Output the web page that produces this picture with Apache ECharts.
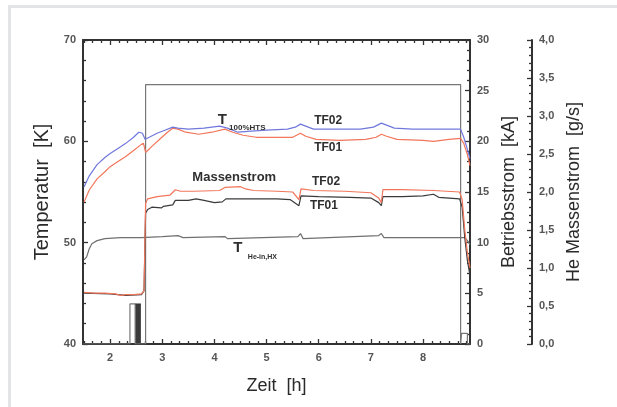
<!DOCTYPE html>
<html>
<head>
<meta charset="utf-8">
<script src="https://cdn.jsdelivr.net/npm/echarts@6/dist/echarts.min.js"></script>
<style>
html,body{margin:0;padding:0;background:#fff;}
#chart{width:617px;height:407px;}
</style>
</head>
<body>
<div id="chart"></div>
<script>
// ---- Data (time in h) ----
var xTickLabels = [2, 3, 4, 5, 6, 7, 8];
var leftTicks = [40, 50, 60, 70];          // Temperatur [K]
var currentTicks = [0, 5, 10, 15, 20, 25, 30]; // Betriebsstrom [kA]
var flowTicks = [0, 0.5, 1, 1.5, 2, 2.5, 3, 3.5, 4]; // He Massenstrom [g/s]

// Temperature TF02 (blue) [K]
var tempTF02 = [[1.50,55.5],[1.6,56.6],[1.75,57.7],[1.9,58.4],[2.0,58.8],[2.15,59.3],[2.3,59.8],[2.45,60.4],[2.55,60.9],[2.62,60.8],[2.67,60.2],[2.75,60.4],[2.9,60.8],[3.05,61.1],[3.2,61.4],[3.3,61.3],[3.5,61.2],[3.8,61.3],[4.1,61.5],[4.25,61.3],[4.45,60.9],[4.7,61.0],[5.0,61.1],[5.4,61.2],[5.55,61.4],[5.65,61.7],[5.75,61.5],[5.9,61.2],[6.3,61.2],[6.8,61.2],[7.05,61.4],[7.2,61.8],[7.3,61.6],[7.45,61.3],[7.8,61.2],[8.3,61.2],[8.72,61.2],[8.78,60.4],[8.85,59.2],[8.9,58.3]];
// Temperature TF01 (red) [K]
var tempTF01 = [[1.50,54.0],[1.6,55.2],[1.75,56.3],[1.9,57.0],[2.0,57.5],[2.15,58.0],[2.3,58.5],[2.45,59.1],[2.6,59.7],[2.64,59.8],[2.68,58.9],[2.8,59.5],[2.95,60.2],[3.1,60.9],[3.2,61.3],[3.3,61.2],[3.45,60.9],[3.7,60.7],[3.95,60.9],[4.2,61.2],[4.35,60.9],[4.55,60.6],[4.8,60.4],[5.2,60.4],[5.5,60.4],[5.65,60.8],[5.75,60.5],[5.95,60.2],[6.4,60.1],[6.9,60.2],[7.1,60.4],[7.2,60.7],[7.3,60.5],[7.5,60.2],[8.0,60.1],[8.2,60.0],[8.5,60.2],[8.72,60.3],[8.78,59.8],[8.85,58.7],[8.9,57.6]];
// He mass flow TF02 (red) [g/s]
var flowTF02 = [[1.50,0.68],[1.7,0.67],[1.9,0.67],[2.1,0.66],[2.2,0.64],[2.3,0.65],[2.45,0.65],[2.6,0.66],[2.65,0.70],[2.68,1.85],[2.72,1.91],[2.9,1.94],[3.15,1.96],[3.25,2.03],[3.35,2.01],[3.6,2.01],[4.1,2.02],[4.2,2.06],[4.5,2.07],[4.6,2.04],[4.75,2.02],[5.2,2.01],[5.5,2.00],[5.62,1.90],[5.66,2.04],[5.9,2.02],[6.5,2.01],[7.0,1.99],[7.15,1.92],[7.2,1.86],[7.23,2.03],[7.6,2.03],[8.2,2.02],[8.7,2.0],[8.75,1.9],[8.8,1.5],[8.85,1.2],[8.9,1.0]];
// He mass flow TF01 (black) [g/s]
var flowTF01 = [[1.50,0.67],[2.0,0.66],[2.3,0.64],[2.6,0.65],[2.65,0.7],[2.68,1.72],[2.72,1.77],[2.8,1.80],[2.98,1.79],[3.02,1.81],[3.2,1.83],[3.25,1.89],[3.5,1.89],[3.65,1.91],[3.8,1.89],[4.0,1.86],[4.15,1.87],[4.22,1.91],[4.6,1.91],[5.2,1.91],[5.45,1.90],[5.62,1.82],[5.66,1.95],[6.0,1.94],[6.6,1.93],[7.0,1.92],[7.15,1.86],[7.2,1.82],[7.23,1.94],[7.6,1.94],[8.0,1.95],[8.2,1.97],[8.3,1.93],[8.7,1.91],[8.75,1.8],[8.8,1.4],[8.85,1.1],[8.9,0.9]];
// T He-in,HX (gray) [K]
var tempHeIn = [[1.50,48.3],[1.55,48.6],[1.6,49.4],[1.65,49.9],[1.75,50.2],[1.9,50.4],[2.2,50.5],[2.6,50.5],[3.0,50.6],[3.3,50.7],[3.4,50.5],[4.2,50.6],[4.25,50.4],[5.6,50.6],[5.65,50.9],[5.7,50.4],[7.15,50.7],[7.2,50.9],[7.25,50.5],[8.7,50.5],[8.8,50.5],[8.85,50.2],[8.9,49.8]];
// Betriebsstrom [kA]
var current = [[1.48,0],[2.38,0],[2.38,3.95],[2.48,3.95],[2.48,0],[2.68,0],[2.68,25.6],[8.72,25.6],[8.72,0],[8.74,0],[8.74,1.05],[8.85,1.05],[8.85,0],[8.9,0]];
var currentPulse = [[2.48,3.95],[2.59,3.95]];

// annotations [x, T]
var annotations = [
  {text:'T', at:[4.15,62.1], size:15},
  {text:'100%HTS', at:[4.63,61.35], size:8},
  {text:'TF02', at:[6.18,62.0], size:12},
  {text:'TF01', at:[6.18,59.35], size:12},
  {text:'Massenstrom', at:[4.38,56.4], size:13},
  {text:'TF02', at:[6.14,56.0], size:12},
  {text:'TF01', at:[6.10,53.6], size:12},
  {text:'T', at:[4.45,49.5], size:15},
  {text:'He-in,HX', at:[4.92,48.6], size:7}
];

var minorX = [];
for (var k = 9; k <= 53; k++) { if (k % 6 !== 0) minorX.push(k / 6); }

var FONT = 'Liberation Sans, Arial, sans-serif';
var AX = '#333';

var chart = echarts.init(document.getElementById('chart'));
var grid = {left:83, right:147, top:40, bottom:63};

function xAx(pos, major, showLine, labels) {
  return {
    type:'value', position:pos, min:1.48, max:8.9,
    axisLine:{show:showLine, onZero:false, lineStyle:{color:AX, width:2}},
    axisTick:{show:true, inside:true, length: major ? 5 : 3, customValues: major ? xTickLabels : minorX, lineStyle:{color:AX, width:1.3}},
    axisLabel:{show:labels, customValues:xTickLabels, color:'#555', fontSize:11, fontWeight:'bold', fontFamily:FONT, margin:8},
    splitLine:{show:false},
    name: labels ? 'Zeit  [h]' : '', nameLocation:'middle', nameGap:33,
    nameTextStyle:{fontSize:18, color:'#2a2a2a', fontFamily:FONT}
  };
}

chart.setOption({
  animation:false,
  backgroundColor:'#fff',
  graphic:[
    {type:'rect', shape:{x:8, y:5, width:3, height:402}, style:{fill:'#e1e5e5'}, silent:true},
    {type:'rect', shape:{x:8, y:5, width:609, height:3}, style:{fill:'#e1e5e5'}, silent:true}
  ],
  grid:grid,
  xAxis:[
    xAx('bottom', true, true, true),
    xAx('bottom', false, false, false),
    xAx('top', true, true, false),
    xAx('top', false, false, false)
  ],
  yAxis:[
    {type:'value', position:'left', min:leftTicks[0], max:leftTicks[leftTicks.length-1], interval:10,
     axisLine:{show:true, lineStyle:{color:AX, width:2}},
     axisTick:{inside:true, length:5, lineStyle:{color:AX, width:1.3}},
     minorTick:{show:true, splitNumber:5, length:3, lineStyle:{color:AX, width:1.3}},
     axisLabel:{color:'#555', fontSize:11, fontWeight:'bold', fontFamily:FONT, margin:7},
     splitLine:{show:false},
     name:'Temperatur  [K]', nameLocation:'middle', nameRotate:90, nameGap:29,
     nameTextStyle:{fontSize:20, color:'#2a2a2a', fontFamily:FONT}},
    {type:'value', position:'right', offset:0, min:currentTicks[0], max:currentTicks[currentTicks.length-1], interval:5,
     axisLine:{show:true, lineStyle:{color:AX, width:2}},
     axisTick:{inside:true, length:5, lineStyle:{color:AX, width:1.3}},
     minorTick:{show:true, splitNumber:5, length:3, lineStyle:{color:AX, width:1.3}},
     axisLabel:{color:'#555', fontSize:11, fontWeight:'bold', fontFamily:FONT, margin:7},
     splitLine:{show:false},
     name:'Betriebsstrom  [kA]', nameLocation:'middle', nameRotate:90, nameGap:29,
     nameTextStyle:{fontSize:18, color:'#2a2a2a', fontFamily:FONT}},
    {type:'value', position:'right', offset:62, min:flowTicks[0], max:flowTicks[flowTicks.length-1], interval:0.5,
     axisLine:{show:true, lineStyle:{color:AX, width:2}},
     axisTick:{inside:true, length:5, lineStyle:{color:AX, width:1.3}},
     minorTick:{show:true, splitNumber:5, length:3, lineStyle:{color:AX, width:1.3}},
     axisLabel:{color:'#555', fontSize:11, fontWeight:'bold', fontFamily:FONT, margin:7,
       formatter:function(v){ return v.toFixed(1).replace('.', ','); }},
     splitLine:{show:false},
     name:'He Massenstrom  [g/s]', nameLocation:'middle', nameRotate:90, nameGap:33,
     nameTextStyle:{fontSize:18, color:'#2a2a2a', fontFamily:FONT}}
  ],
  series:[
    {name:'current', type:'line', yAxisIndex:1, data:current, showSymbol:false, symbol:'none',
     lineStyle:{color:'#777', width:1.2}},
    {name:'pulse', type:'line', yAxisIndex:1, data:currentPulse, showSymbol:false, symbol:'none',
     lineStyle:{color:'#333', width:1}, areaStyle:{color:'#3a3a3a', opacity:1}},
    {name:'THeIn', type:'line', yAxisIndex:0, data:tempHeIn, showSymbol:false, symbol:'none',
     lineStyle:{color:'#707070', width:1.2}},
    {name:'flowTF01', type:'line', yAxisIndex:2, data:flowTF01, showSymbol:false, symbol:'none',
     lineStyle:{color:'#3a3a3a', width:1.2}},
    {name:'flowTF02', type:'line', yAxisIndex:2, data:flowTF02, showSymbol:false, symbol:'none',
     lineStyle:{color:'#f2765a', width:1.2}},
    {name:'tempTF01', type:'line', yAxisIndex:0, data:tempTF01, showSymbol:false, symbol:'none',
     lineStyle:{color:'#f2765a', width:1.2}},
    {name:'tempTF02', type:'line', yAxisIndex:0, data:tempTF02, showSymbol:false, symbol:'none',
     lineStyle:{color:'#7078dc', width:1.2},
     markPoint:{
       symbol:'rect', symbolSize:1, itemStyle:{color:'rgba(0,0,0,0)'}, silent:true,
       data: annotations.map(function(a){
         return {coord:a.at, value:a.text,
           label:{show:true, position:'inside', formatter:a.text, color:'#2f2f2f',
                  fontSize:a.size, fontWeight:'bold', fontFamily:FONT}};
       })
     }}
  ]
});
</script>
</body>
</html>
